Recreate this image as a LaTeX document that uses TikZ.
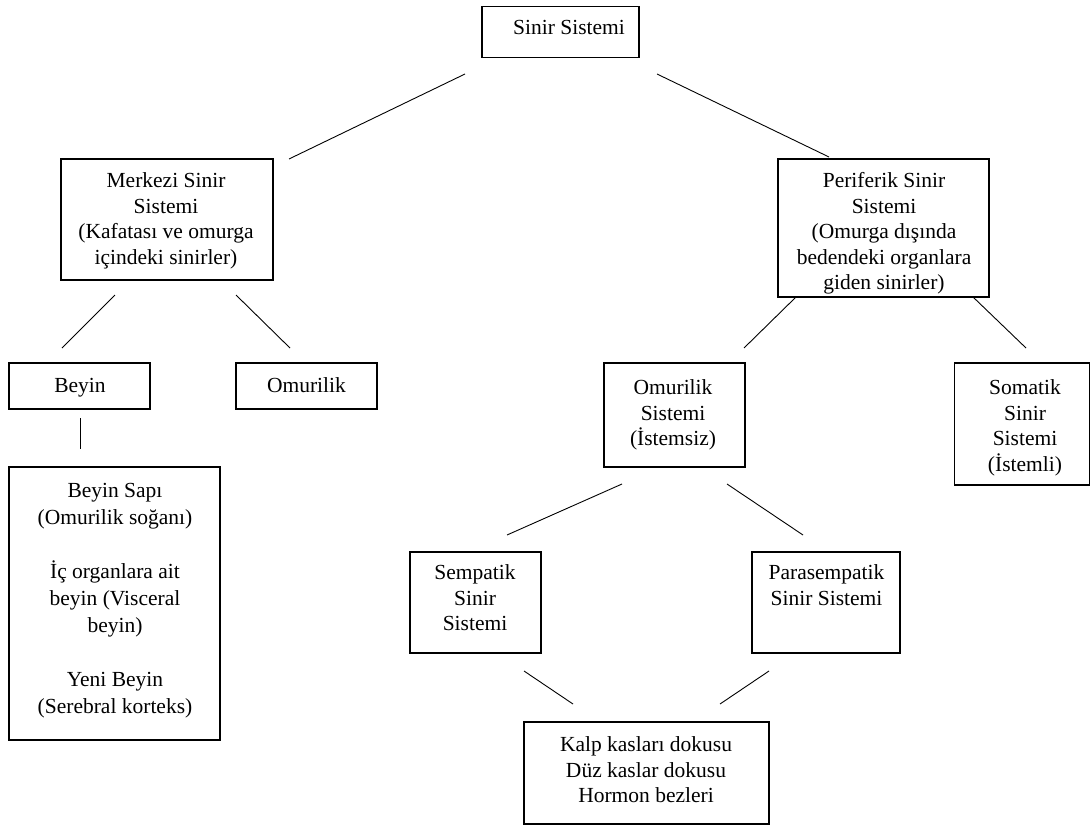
\documentclass[tikz,border=0pt]{standalone}
\usepackage{fontspec}
\setmainfont{Liberation Serif}
\newcommand\diafs{\fontsize{21.5}{25.5}\selectfont}
\tikzset{
  box/.style={draw, line width=1.3pt, inner sep=0pt, outer sep=0pt},
  txt/.style={font=\diafs, align=center, inner sep=0pt, anchor=north},
  conn/.style={draw, line width=0.9pt}
}
\begin{document}
\begin{tikzpicture}[x=1pt, y=-1pt]
\useasboundingbox[fill=white] (0,0) rectangle (1091,827);
% boxes (centre x, centre y, width, height)
\node[box, minimum width=157, minimum height=51] (sinir) at (560.5,32) {};
\node[box, minimum width=212, minimum height=121] (merkezi) at (167,219.5) {};
\node[box, minimum width=211, minimum height=138] (periferik) at (883.5,228) {};
\node[box, minimum width=141, minimum height=46] (beyin) at (79.5,386) {};
\node[box, minimum width=141, minimum height=46] (omurilik) at (306.5,386) {};
\node[box, minimum width=211, minimum height=273] (sapi) at (114.5,603.5) {};
\node[box, minimum width=141, minimum height=104] (omsis) at (674.5,415) {};
\node[box, minimum width=135, minimum height=122] (somatik) at (1022,424) {};
\node[box, minimum width=131, minimum height=101] (sempatik) at (475.5,602.5) {};
\node[box, minimum width=148, minimum height=101] (para) at (826,602.5) {};
\node[box, minimum width=245, minimum height=102] (kalp) at (646.5,773) {};
% texts
\node[txt] (sinir-t) at (569,16.5) {\strut Sinir Sistemi};
\node[txt] (merkezi-t) at (166,169.5) {\strut Merkezi Sinir\\Sistemi\\(Kafatası ve omurga\\içindeki sinirler)};
\node[txt] (periferik-t) at (884,169.5) {\strut Periferik Sinir\\Sistemi\\(Omurga dışında\\bedendeki organlara\\giden sinirler)};
\node[txt] (beyin-t) at (80,374.5) {\strut Beyin};
\node[txt] (omurilik-t) at (306.5,374.5) {\strut Omurilik};
\node[txt, font=\fontsize{21.5}{27}\selectfont] (sapi-t) at (115,478.5) {\strut Beyin Sapı\\(Omurilik soğanı)\\[27pt]İç organlara ait\\beyin (Visceral\\beyin)\\[27pt]Yeni Beyin\\(Serebral korteks)};
\node[txt] (omsis-t) at (673,376.5) {\strut Omurilik\\Sistemi\\(İstemsiz)};
\node[txt] (somatik-t) at (1025,376.5) {\strut Somatik\\Sinir\\Sistemi\\(İstemli)};
\node[txt] (sempatik-t) at (475,561.5) {\strut Sempatik\\Sinir\\Sistemi};
\node[txt] (para-t) at (826.5,561.5) {\strut Parasempatik\\Sinir Sistemi};
\node[txt] (kalp-t) at (646,733.5) {\strut Kalp kasları dokusu\\Düz kaslar dokusu\\Hormon bezleri};
% connector end points
\coordinate (s1a) at (465,74);   \coordinate (s1b) at (289,159);
\coordinate (s2a) at (657,74);   \coordinate (s2b) at (829,157);
\coordinate (m1a) at (115,295);  \coordinate (m1b) at (62,348);
\coordinate (m2a) at (236,295);  \coordinate (m2b) at (290,348);
\coordinate (b1a) at (80,418);   \coordinate (b1b) at (80,449);
\coordinate (p1a) at (796,297);  \coordinate (p1b) at (744,348);
\coordinate (p2a) at (973,297);  \coordinate (p2b) at (1026,348);
\coordinate (o1a) at (622,484);  \coordinate (o1b) at (507,535);
\coordinate (o2a) at (727,484);  \coordinate (o2b) at (803,535);
\coordinate (k1a) at (524,671);  \coordinate (k1b) at (573,704);
\coordinate (k2a) at (769,671);  \coordinate (k2b) at (720,704);
\draw[conn] (s1a) -- (s1b);
\draw[conn] (s2a) -- (s2b);
\draw[conn] (m1a) -- (m1b);
\draw[conn] (m2a) -- (m2b);
\draw[conn] (b1a) -- (b1b);
\draw[conn] (p1a) -- (p1b);
\draw[conn] (p2a) -- (p2b);
\draw[conn] (o1a) -- (o1b);
\draw[conn] (o2a) -- (o2b);
\draw[conn] (k1a) -- (k1b);
\draw[conn] (k2a) -- (k2b);
\end{tikzpicture}
\end{document}
